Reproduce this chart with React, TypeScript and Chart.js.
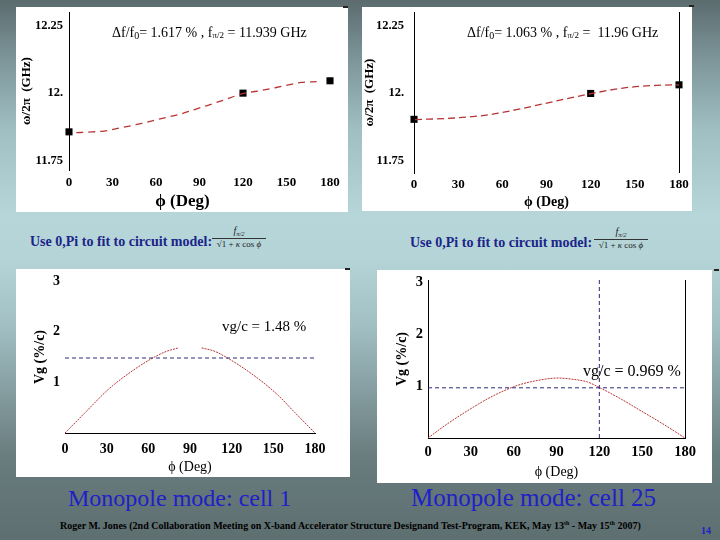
import React, { useEffect, useRef } from "react";
import { Chart, registerables } from "chart.js";
Chart.register(...registerables);

// ---------- data ----------
const PHI_TICKS = [0, 30, 60, 90, 120, 150, 180];
const FREQ_TICKS = [11.75, 12, 12.25];
const VG_TICKS = [1, 2, 3];

// cell 1 dispersion (GHz)
const cell1PhiPts = [0, 120, 180];
const cell1FreqPts = [11.856, 12.0, 12.046];
const cell1FitPhi = [5, 12.7, 24.2, 35.8, 49.6, 63.5, 77.3, 91.2, 105, 120.5, 132.7, 146.6, 160.4, 170.8];
const cell1FitFreq = [11.853, 11.855, 11.859, 11.871, 11.887, 11.905, 11.923, 11.947, 11.971, 11.999, 12.01, 12.025, 12.04, 12.043];

// cell 25 dispersion (GHz)
const cell25PhiPts = [0, 120, 180];
const cell25FreqPts = [11.902, 11.998, 12.03];
const cell25FitPhi = [0.7, 28, 51, 74, 96.5, 120, 142, 165, 180];
const cell25FitFreq = [11.901, 11.907, 11.919, 11.943, 11.97, 11.997, 12.018, 12.028, 12.03];

// group velocity (% of c)
const vg1Phi = [0, 14.4, 31.2, 45.6, 60, 72, 81.6, 90, 98.4, 108, 117.6, 129.6, 141.6, 153.6, 165.6, 180];
const vg1Val = [0, 0.4, 0.86, 1.17, 1.43, 1.6, 1.68, null, 1.68, 1.61, 1.47, 1.26, 1.02, 0.74, 0.4, 0];
const vg25Phi = [0, 12.9, 29.4, 45.9, 62.4, 76.5, 90.6, 102.4, 111.8, 120, 135.3, 149.4, 163.5, 180];
const vg25Val = [0, 0.26, 0.556, 0.817, 1.013, 1.11, 1.157, 1.13, 1.08, 0.975, 0.75, 0.52, 0.29, 0];

const VG_REF_1 = 1.48;
const VG_REF_25 = 0.969;
const PI_MARK_PHI = 120;

// ---------- styling ----------
const SERIF = "'Liberation Serif', 'Times New Roman', Times, serif";
const RED = "#b83434";
const NAVY = "#2a2a7c";

const f = (size: number, weight: string = "bold", style: string = "normal") => ({
  family: SERIF,
  size,
  weight,
  style,
  lineHeight: 1.2,
});

const pts = (xs: number[], ys: (number | null)[]) => xs.map((x, i) => ({ x, y: ys[i] }));

type Part = { t: string; size: number; dy?: number };
function drawRich(ctx: CanvasRenderingContext2D, x: number, y: number, parts: Part[]) {
  ctx.save();
  ctx.fillStyle = "#000";
  ctx.textBaseline = "middle";
  ctx.textAlign = "left";
  let cx = x;
  for (const p of parts) {
    ctx.font = `${p.size}px ${SERIF}`;
    ctx.fillText(p.t, cx, y + (p.dy || 0));
    cx += ctx.measureText(p.t).width;
  }
  ctx.restore();
}

function rightBorder(chart: any) {
  const { ctx, chartArea } = chart;
  const x = Math.round(chartArea.right) + 0.5;
  ctx.save();
  ctx.strokeStyle = "#000";
  ctx.lineWidth = 1;
  ctx.beginPath();
  ctx.moveTo(x, chartArea.top);
  ctx.lineTo(x, chartArea.bottom);
  ctx.stroke();
  ctx.restore();
}

type Spec = {
  x: number; y: number; w: number; h: number;
  yWidth: number; xHeight: number; padRight: number; padTop: number;
  yMin: number; yMax: number; yTicks: number[]; yLabel: (v: number) => string;
  yTickSize: number; yTickPad: number; xTickSize: number; xTickPad: number;
  yTitle: string; yTitleFont: any; yTitlePad: number;
  xTitle: string; xTitleFont: any; xTitlePad: number;
  leftBorder: boolean; bottomBorder: boolean;
  datasets: any[];
  draw: (chart: any) => void;
};

function buildConfig(s: Spec): any {
  return {
    type: "line",
    data: { datasets: s.datasets },
    options: {
      responsive: false,
      animation: false,
      devicePixelRatio: 1,
      layout: { padding: { left: 0, top: s.padTop, right: s.padRight, bottom: 0 } },
      plugins: { legend: { display: false }, tooltip: { enabled: false }, title: { display: false } },
      scales: {
        x: {
          type: "linear",
          min: 0,
          max: 180,
          afterBuildTicks: (sc: any) => { sc.ticks = PHI_TICKS.map((v) => ({ value: v })); },
          afterFit: (sc: any) => { sc.height = s.xHeight; sc.paddingLeft = 0; sc.paddingRight = 0; sc.paddingTop = 0; sc.paddingBottom = 0; },
          grid: { display: false, drawTicks: false },
          border: { display: s.bottomBorder, color: "#000", width: 1 },
          ticks: { color: "#000", font: f(s.xTickSize), padding: s.xTickPad, maxRotation: 0, autoSkip: false, callback: (v: any) => String(v) },
          title: { display: true, text: s.xTitle, color: "#000", font: s.xTitleFont, padding: { top: 0, bottom: s.xTitlePad } },
        },
        y: {
          type: "linear",
          min: s.yMin,
          max: s.yMax,
          afterBuildTicks: (sc: any) => { sc.ticks = s.yTicks.map((v) => ({ value: v })); },
          afterFit: (sc: any) => { sc.width = s.yWidth; sc.paddingLeft = 0; sc.paddingRight = 0; sc.paddingTop = 0; sc.paddingBottom = 0; },
          grid: { display: false, drawTicks: false },
          border: { display: s.leftBorder, color: "#000", width: 1 },
          ticks: { color: "#000", font: f(s.yTickSize), padding: s.yTickPad, autoSkip: false, callback: (v: any) => s.yLabel(Number(v)) },
          title: { display: true, text: s.yTitle, color: "#000", font: s.yTitleFont, padding: { top: s.yTitlePad, bottom: 0 } },
        },
      },
    },
    plugins: [{ id: "deco", afterDraw: s.draw }],
  };
}

function ChartPanel({ spec }: { spec: Spec }) {
  const ref = useRef<HTMLCanvasElement>(null);
  useEffect(() => {
    const chart = new Chart(ref.current as HTMLCanvasElement, buildConfig(spec));
    return () => chart.destroy();
  }, []);
  return (
    <div style={{ position: "absolute", left: spec.x, top: spec.y, width: spec.w, height: spec.h, background: "#fff" }}>
      <canvas ref={ref} width={spec.w} height={spec.h} style={{ display: "block", width: spec.w, height: spec.h }} />
    </div>
  );
}

const fitLine = (data: any[], dash: number[]) => ({
  data,
  borderColor: RED,
  borderWidth: 1.3,
  borderDash: dash,
  pointRadius: 0,
  cubicInterpolationMode: "monotone",
  clip: false,
});
const markers = (data: any[]) => ({
  data,
  showLine: false,
  pointStyle: "rect",
  pointRadius: 5,
  backgroundColor: "#000",
  borderColor: "#000",
  borderWidth: 0,
  clip: false,
});
const vgLine = (data: any[]) => ({
  data,
  borderColor: RED,
  borderWidth: 1,
  borderDash: [2, 1],
  pointRadius: 0,
  cubicInterpolationMode: "monotone",
  spanGaps: false,
  clip: false,
});
const refLine = (data: any[]) => ({
  data,
  borderColor: NAVY,
  borderWidth: 1,
  borderDash: [4, 3],
  pointRadius: 0,
  clip: false,
});

const freqLabel = (v: number) => (v === 12 ? "12." : String(v));
const vgLabel = (v: number) => String(v);

const spec1: Spec = {
  x: 16, y: 7, w: 332, h: 205,
  yWidth: 53, xHeight: 42, padRight: 18, padTop: 0,
  yMin: 11.714, yMax: 12.302, yTicks: FREQ_TICKS, yLabel: freqLabel,
  yTickSize: 12.5, yTickPad: 6, xTickSize: 13, xTickPad: 5,
  yTitle: "ω/2π  (GHz)", yTitleFont: f(13), yTitlePad: 3,
  xTitle: "ϕ (Deg)\u00a0\u00a0\u00a0\u00a0\u00a0\u00a0\u00a0\u00a0", xTitleFont: f(17), xTitlePad: 0,
  leftBorder: true, bottomBorder: false,
  datasets: [fitLine(pts(cell1FitPhi, cell1FitFreq), [7, 5]), markers(pts(cell1PhiPts, cell1FreqPts))],
  draw: (chart) => {
    drawRich(chart.ctx, 96, 26, [
      { t: "Δf/f", size: 14 }, { t: "0", size: 10, dy: 3 }, { t: "= 1.617 % , f", size: 14 },
      { t: "π/2", size: 9, dy: 3 }, { t: " = 11.939 GHz", size: 14 },
    ]);
  },
};

const spec2: Spec = {
  x: 362, y: 7, w: 330, h: 204,
  yWidth: 52, xHeight: 38, padRight: 13, padTop: 0,
  yMin: 11.703, yMax: 12.3, yTicks: FREQ_TICKS, yLabel: freqLabel,
  yTickSize: 12.5, yTickPad: 10, xTickSize: 13, xTickPad: 4,
  yTitle: "ω/2π  (GHz)", yTitleFont: f(13), yTitlePad: 0,
  xTitle: "ϕ (Deg)", xTitleFont: f(14), xTitlePad: 0,
  leftBorder: true, bottomBorder: false,
  datasets: [fitLine(pts(cell25FitPhi, cell25FitFreq), [7, 4]), markers(pts(cell25PhiPts, cell25FreqPts))],
  draw: (chart) => {
    rightBorder(chart);
    drawRich(chart.ctx, 105, 26, [
      { t: "Δf/f", size: 14 }, { t: "0", size: 10, dy: 3 }, { t: "= 1.063 % , f", size: 14 },
      { t: "π/2", size: 9, dy: 3 }, { t: " =  11.96 GHz", size: 14 },
    ]);
  },
};

const spec3: Spec = {
  x: 16, y: 269, w: 334, h: 208,
  yWidth: 49, xHeight: 44, padRight: 35, padTop: 12,
  yMin: 0, yMax: 3, yTicks: VG_TICKS, yLabel: vgLabel,
  yTickSize: 14, yTickPad: 5, xTickSize: 14, xTickPad: 8,
  yTitle: "Vg (%/c)", yTitleFont: f(14), yTitlePad: 16,
  xTitle: "ϕ (Deg)", xTitleFont: f(14, "normal"), xTitlePad: 1,
  leftBorder: false, bottomBorder: true,
  datasets: [refLine(pts([0, 180], [VG_REF_1, VG_REF_1])), vgLine(pts(vg1Phi, vg1Val))],
  draw: (chart) => {
    drawRich(chart.ctx, 206, 58, [{ t: "vg/c = 1.48 %", size: 15 }]);
  },
};

const spec4: Spec = {
  x: 377, y: 270, w: 335, h: 213,
  yWidth: 51, xHeight: 45, padRight: 27, padTop: 10,
  yMin: 0, yMax: 3.05, yTicks: VG_TICKS, yLabel: vgLabel,
  yTickSize: 14.5, yTickPad: 5, xTickSize: 14.5, xTickPad: 6,
  yTitle: "Vg (%/c)", yTitleFont: f(14), yTitlePad: 17,
  xTitle: "ϕ (Deg)", xTitleFont: f(14, "normal"), xTitlePad: 2,
  leftBorder: true, bottomBorder: true,
  datasets: [
    refLine(pts([0, 180], [VG_REF_25, VG_REF_25])),
    refLine(pts([PI_MARK_PHI, PI_MARK_PHI], [0, 3.05])),
    vgLine(pts(vg25Phi, vg25Val)),
  ],
  draw: (chart) => {
    rightBorder(chart);
    drawRich(chart.ctx, 206, 102, [{ t: "vg/c = 0.969 %", size: 16 }]);
  },
};

function Formula({ x, y }: { x: number; y: number }) {
  return (
    <div style={{ position: "absolute", left: x, top: y, width: 54, fontFamily: SERIF, color: "#222", textAlign: "center", lineHeight: 1 }}>
      <div style={{ fontSize: 10, fontStyle: "italic", height: 11 }}>
        f<span style={{ fontSize: 6.5, position: "relative", top: 2 }}>π/2</span>
      </div>
      <div style={{ borderTop: "1px solid #333", marginTop: 1 }} />
      <div style={{ fontSize: 9, marginTop: 1, whiteSpace: "nowrap" }}>
        √<span style={{ borderTop: "1px solid #333" }}>1 + <i>κ</i> cos <i>ϕ</i></span>
      </div>
    </div>
  );
}

const Mark = ({ x, y }: { x: number; y: number }) => (
  <div style={{ position: "absolute", left: x, top: y, width: 5, height: 2, background: "#222" }} />
);

export default function App() {
  const fitText: React.CSSProperties = {
    position: "absolute", fontFamily: SERIF, fontWeight: "bold", fontSize: 14, color: "#1c2488",
    lineHeight: "16px", whiteSpace: "nowrap",
  };
  const modeText: React.CSSProperties = {
    position: "absolute", fontFamily: SERIF, color: "#2020c8", lineHeight: "26px", whiteSpace: "nowrap",
  };
  return (
    <div
      style={{
        position: "fixed", left: 0, top: 0, width: 720, height: 540, overflow: "hidden",
        background:
          "linear-gradient(to bottom, #5b6b6e 0%, #7a9296 10%, #a0bfc3 24%, #b6d6da 40%, #b4d4d8 48%, #a2c0c4 60%, #849c9f 73%, #687b7d 85%, #5e6f70 100%)",
      }}
    >
      <ChartPanel spec={spec1} />
      <ChartPanel spec={spec2} />
      <ChartPanel spec={spec3} />
      <ChartPanel spec={spec4} />
      <Mark x={343} y={6} />
      <Mark x={689} y={5} />
      <Mark x={345} y={268} />
      <Mark x={714} y={269} />

      <div style={{ ...fitText, left: 30, top: 234 }}>Use 0,Pi to fit to circuit model:</div>
      <Formula x={212} y={226} />
      <div style={{ ...fitText, left: 410, top: 235 }}>Use 0,Pi to fit to circuit model:</div>
      <Formula x={594} y={227} />

      <div style={{ ...modeText, left: 68, top: 485, fontSize: 24 }}>Monopole mode: cell 1</div>
      <div style={{ ...modeText, left: 411, top: 485, fontSize: 25 }}>Monopole mode: cell 25</div>

      <div style={{ position: "absolute", left: 60, top: 517, fontFamily: SERIF, fontWeight: "bold", fontSize: 10, color: "#000", lineHeight: "12px", whiteSpace: "nowrap" }}>
        Roger M. Jones (2nd Collaboration Meeting on X-band Accelerator Structure Designand Test-Program, KEK, May 13
        <sup style={{ fontSize: 6 }}>th</sup> - May 15<sup style={{ fontSize: 6 }}>th</sup> 2007)
      </div>
      <div style={{ position: "absolute", left: 701, top: 525, fontFamily: SERIF, fontWeight: "bold", fontSize: 10, color: "#2020c8", lineHeight: "12px" }}>
        14
      </div>
    </div>
  );
}
